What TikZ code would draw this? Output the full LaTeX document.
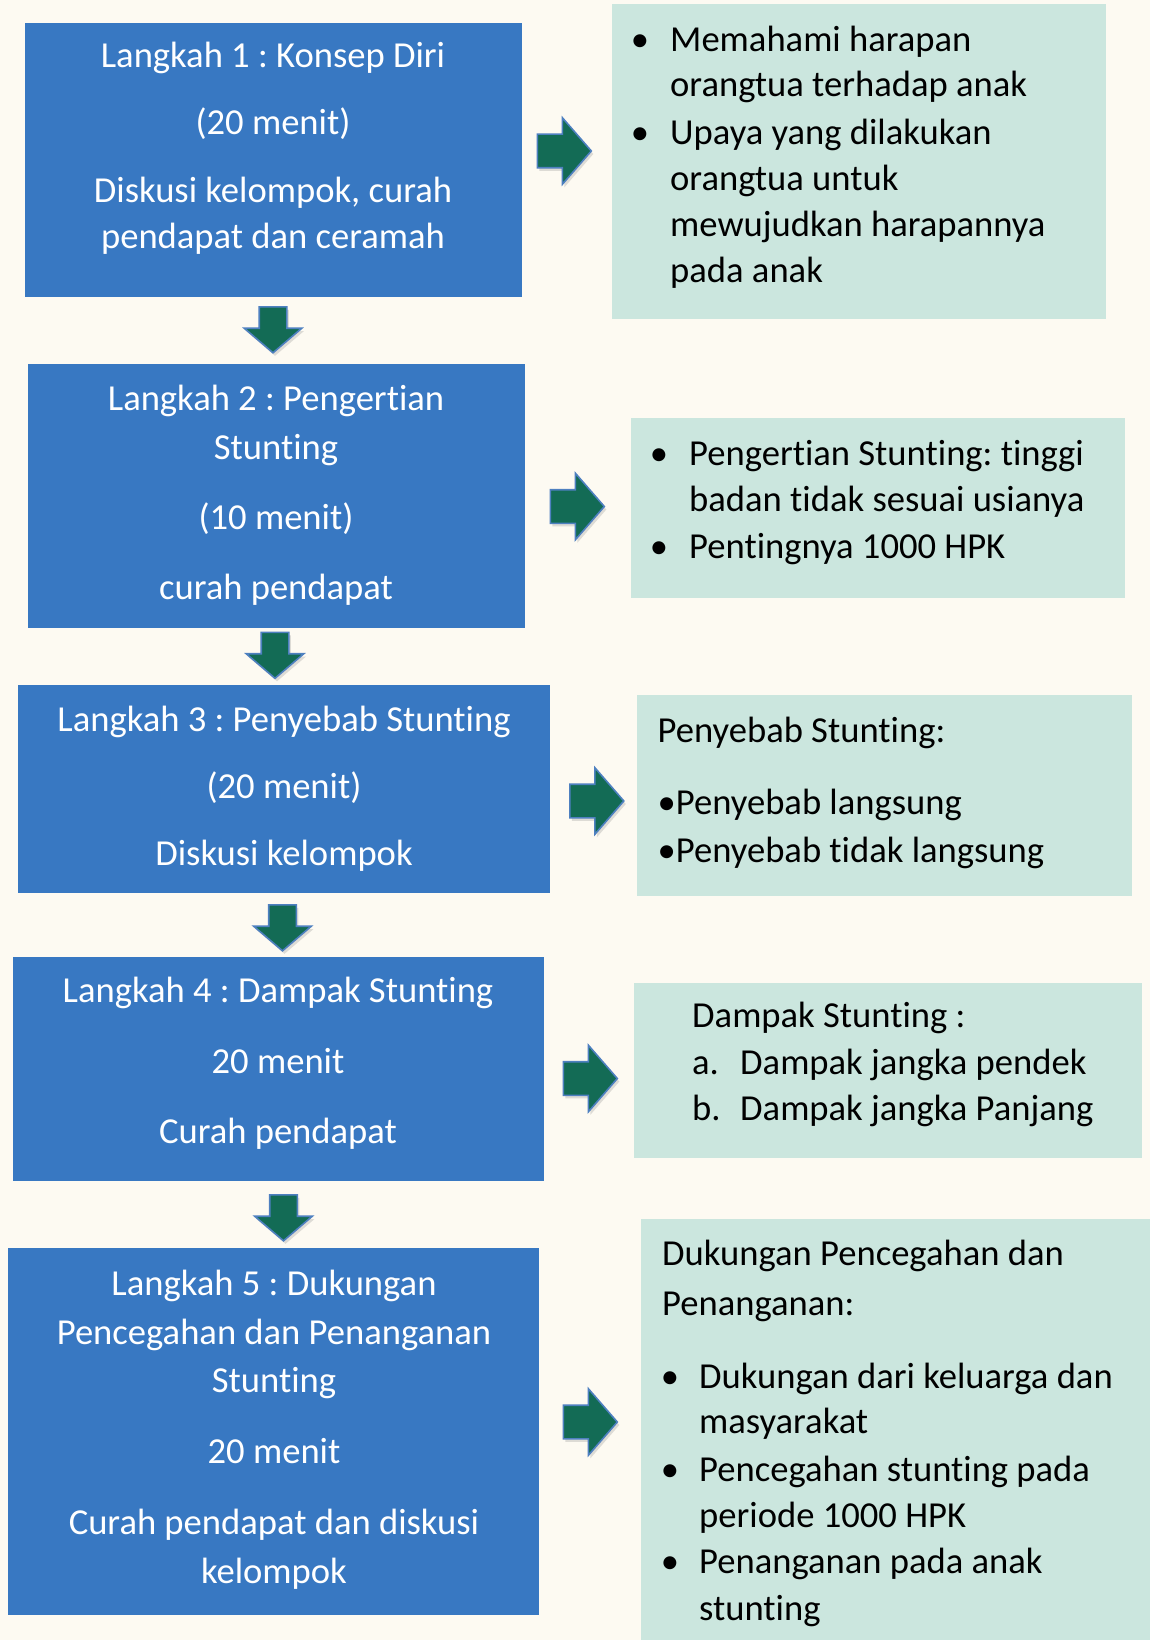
\documentclass[tikz,border=0pt]{standalone}
\usepackage{fontspec}
\setmainfont[Ligatures=NoCommon]{Carlito}
\usetikzlibrary{shapes.arrows,shadows}
\definecolor{bgc}{HTML}{FDFAF2}
\definecolor{boxblue}{HTML}{3878C2}
\definecolor{boxgreen}{HTML}{CBE6DE}
\definecolor{arrfill}{HTML}{136B55}
\definecolor{arrline}{HTML}{4E80C0}
\newcommand{\bodyfont}{\fontsize{36.6}{46}\selectfont\frenchspacing}
\tikzset{
  blubox/.style={rectangle, fill=boxblue, draw=none, inner sep=0pt},
  grnbox/.style={rectangle, fill=boxgreen, draw=none, inner sep=0pt},
  wtxt/.style={anchor=base, text=white, inner sep=0pt, font=\bodyfont},
  ktxt/.style={anchor=base west, text=black, inner sep=0pt, font=\bodyfont},
  kbul/.style={anchor=base, text=black, inner sep=0pt, font=\bodyfont},
  rarrow/.style={single arrow, fill=arrfill, draw=arrline, line width=1.6pt,
    minimum height=54pt, inner xsep=0pt, inner ysep=16pt, single arrow head extend=16.5pt,
    single arrow tip angle=98, anchor=tail,
    drop shadow={opacity=0.25, shadow xshift=2pt, shadow yshift=-3pt}},
  darrow/.style={single arrow, fill=arrfill, draw=arrline, line width=1.6pt,
    minimum height=46pt, inner xsep=0pt, inner ysep=13pt, single arrow head extend=15pt,
    single arrow tip angle=99, anchor=tail, rotate=-90,
    drop shadow={opacity=0.25, shadow xshift=2pt, shadow yshift=-3pt}}
}
\begin{document}
\begin{tikzpicture}[x=1pt,y=-1pt]
\fill[bgc] (0,0) rectangle (1150,1640);
\useasboundingbox (0,0) rectangle (1150,1640);

% boxes
\node[blubox, minimum width=497pt, minimum height=274pt] (b1) at (273.5,160) {};
\node[grnbox, minimum width=494pt, minimum height=315pt] (g1) at (859,161.5) {};
\node[blubox, minimum width=497pt, minimum height=264pt] (b2) at (276.5,496) {};
\node[grnbox, minimum width=494pt, minimum height=180pt] (g2) at (878,508) {};
\node[blubox, minimum width=532pt, minimum height=208pt] (b3) at (284,789) {};
\node[grnbox, minimum width=495pt, minimum height=201pt] (g3) at (884.5,795.5) {};
\node[blubox, minimum width=531pt, minimum height=224pt] (b4) at (278.5,1069) {};
\node[grnbox, minimum width=508pt, minimum height=175pt] (g4) at (888,1070.5) {};
\node[blubox, minimum width=531pt, minimum height=367pt] (b5) at (273.5,1431.5) {};
\node[grnbox, minimum width=509pt, minimum height=421pt] (g5) at (895.5,1429.5) {};

% arrows
\node[rarrow] (r1) at (536.5,151) {};
\node[rarrow] (r2) at (549.5,506.5) {};
\node[rarrow] (r3) at (569,801) {};
\node[rarrow] (r4) at (562.5,1078.5) {};
\node[rarrow] (r5) at (562.5,1422) {};
\node[darrow] (d1) at (273,306) {};
\node[darrow] (d2) at (275,631.5) {};
\node[darrow] (d3) at (282.5,904) {};
\node[darrow] (d4) at (283.5,1194) {};

% box 1
\node[wtxt] (t1a) at (273,68) {Langkah 1 : Konsep Diri};
\node[wtxt] (t1b) at (273,135) {(20 menit)};
\node[wtxt] (t1c) at (273,202) {Diskusi kelompok, curah};
\node[wtxt] (t1d) at (273,248) {pendapat dan ceramah};
% green 1
\node[kbul] (u1a) at (640,52) {•};
\node[ktxt] (s1a) at (670,52) {Memahami harapan};
\node[ktxt] (s1b) at (670,97) {orangtua terhadap anak};
\node[kbul] (u1b) at (640,145) {•};
\node[ktxt] (s1c) at (670,145) {Upaya yang dilakukan};
\node[ktxt] (s1d) at (670,190) {orangtua untuk};
\node[ktxt] (s1e) at (670,236) {mewujudkan harapannya};
\node[ktxt] (s1f) at (670,282) {pada anak};

% box 2
\node[wtxt] (t2a) at (276,410) {Langkah 2 : Pengertian};
\node[wtxt] (t2b) at (276,459) {Stunting};
\node[wtxt] (t2c) at (276,529) {(10 menit)};
\node[wtxt] (t2d) at (276,599) {curah pendapat};
% green 2
\node[kbul] (u2a) at (659,465) {•};
\node[ktxt] (s2a) at (689,465) {Pengertian Stunting: tinggi};
\node[ktxt] (s2b) at (689,511) {badan tidak sesuai usianya};
\node[kbul] (u2b) at (659,558) {•};
\node[ktxt] (s2c) at (689,558) {Pentingnya 1000 HPK};

% box 3
\node[wtxt] (t3a) at (284,731) {Langkah 3 : Penyebab Stunting};
\node[wtxt] (t3b) at (284,798) {(20 menit)};
\node[wtxt] (t3c) at (284,865) {Diskusi kelompok};
% green 3
\node[ktxt] (s3a) at (657.5,742) {Penyebab Stunting:};
\node[ktxt] (s3b) at (657.5,814) {•Penyebab langsung};
\node[ktxt] (s3c) at (657.5,862) {•Penyebab tidak langsung};

% box 4
\node[wtxt] (t4a) at (278,1002) {Langkah 4 : Dampak Stunting};
\node[wtxt] (t4b) at (278,1073) {20 menit};
\node[wtxt] (t4c) at (278,1143) {Curah pendapat};
% green 4
\node[ktxt] (s4a) at (692,1027) {Dampak Stunting :};
\node[ktxt] (s4b) at (692,1074) {a.};
\node[ktxt] (s4c) at (740,1074) {Dampak jangka pendek};
\node[ktxt] (s4d) at (692,1120) {b.};
\node[ktxt] (s4e) at (740,1120) {Dampak jangka Panjang};

% box 5
\node[wtxt] (t5a) at (274,1295) {Langkah 5 : Dukungan};
\node[wtxt] (t5b) at (274,1344) {Pencegahan dan Penanganan};
\node[wtxt] (t5c) at (274,1392) {Stunting};
\node[wtxt] (t5d) at (274,1463) {20 menit};
\node[wtxt] (t5e) at (274,1534) {Curah pendapat dan diskusi};
\node[wtxt] (t5f) at (274,1583) {kelompok};
% green 5
\node[ktxt] (s5a) at (662,1265) {Dukungan Pencegahan dan};
\node[ktxt] (s5b) at (662,1315) {Penanganan:};
\node[kbul] (u5a) at (670,1388) {•};
\node[ktxt] (s5c) at (699,1388) {Dukungan dari keluarga dan};
\node[ktxt] (s5d) at (699,1433) {masyarakat};
\node[kbul] (u5b) at (670,1481) {•};
\node[ktxt] (s5e) at (699,1481) {Pencegahan stunting pada};
\node[ktxt] (s5f) at (699,1527) {periode 1000 HPK};
\node[kbul] (u5c) at (670,1573) {•};
\node[ktxt] (s5g) at (699,1573) {Penanganan pada anak};
\node[ktxt] (s5h) at (699,1620) {stunting};
\end{tikzpicture}
\end{document}
